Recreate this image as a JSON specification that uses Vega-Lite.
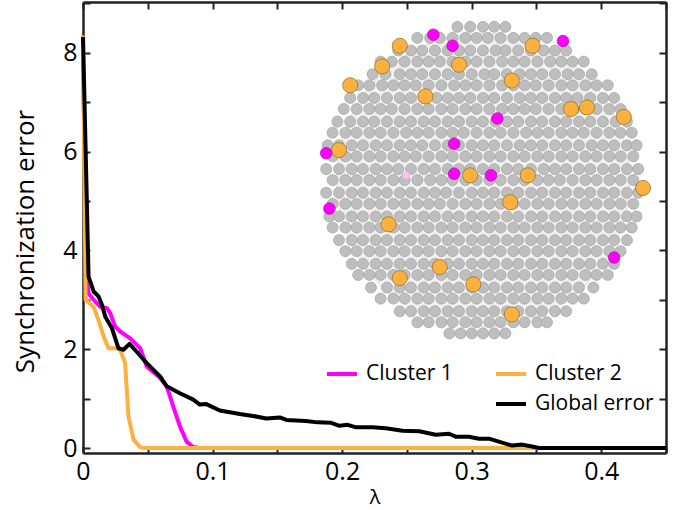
{
  "$schema": "https://vega.github.io/schema/vega-lite/v6.json",
  "width": 583,
  "height": 451,
  "autosize": {"type": "none"},
  "padding": {"left": 83, "top": 2, "right": 16, "bottom": 57},
  "config": {
    "view": {"stroke": null},
    "font": "Open Sans",
    "axis": {"labelFontSize": 25, "labelFont": "Open Sans", "labelColor": "#000000"}
  },
  "datasets": {
    "err": [
      {"s":"Cluster 1","lam":0,"err":7.85},{"s":"Cluster 1","lam":0.003,"err":3.4},{"s":"Cluster 1","lam":0.0043,"err":3.13},{"s":"Cluster 1","lam":0.0082,"err":3.0},{"s":"Cluster 1","lam":0.0133,"err":2.86},{"s":"Cluster 1","lam":0.0185,"err":2.83},{"s":"Cluster 1","lam":0.021,"err":2.73},{"s":"Cluster 1","lam":0.0248,"err":2.46},{"s":"Cluster 1","lam":0.0287,"err":2.36},{"s":"Cluster 1","lam":0.0364,"err":2.22},{"s":"Cluster 1","lam":0.0441,"err":2.02},{"s":"Cluster 1","lam":0.0492,"err":1.65},{"s":"Cluster 1","lam":0.0595,"err":1.42},{"s":"Cluster 1","lam":0.0646,"err":1.25},{"s":"Cluster 1","lam":0.0697,"err":0.84},{"s":"Cluster 1","lam":0.0748,"err":0.44},{"s":"Cluster 1","lam":0.08,"err":0.13},{"s":"Cluster 1","lam":0.085,"err":0.02},{"s":"Cluster 1","lam":0.09,"err":0},{"s":"Cluster 1","lam":0.45,"err":0},
      {"s":"Cluster 2","lam":0,"err":8.35},{"s":"Cluster 2","lam":0.002,"err":3.0},{"s":"Cluster 2","lam":0.0082,"err":2.86},{"s":"Cluster 2","lam":0.012,"err":2.59},{"s":"Cluster 2","lam":0.0159,"err":2.26},{"s":"Cluster 2","lam":0.0197,"err":2.02},{"s":"Cluster 2","lam":0.0261,"err":2.02},{"s":"Cluster 2","lam":0.0287,"err":1.99},{"s":"Cluster 2","lam":0.0325,"err":1.72},{"s":"Cluster 2","lam":0.0351,"err":0.64},{"s":"Cluster 2","lam":0.039,"err":0.17},{"s":"Cluster 2","lam":0.044,"err":0.02},{"s":"Cluster 2","lam":0.047,"err":0},{"s":"Cluster 2","lam":0.45,"err":0},
      {"s":"Global error","lam":0,"err":8.32},{"s":"Global error","lam":0.0043,"err":3.47},{"s":"Global error","lam":0.0082,"err":3.17},{"s":"Global error","lam":0.012,"err":3.07},{"s":"Global error","lam":0.0146,"err":2.9},{"s":"Global error","lam":0.0172,"err":2.66},{"s":"Global error","lam":0.0223,"err":2.43},{"s":"Global error","lam":0.0274,"err":2.02},{"s":"Global error","lam":0.0312,"err":1.99},{"s":"Global error","lam":0.0359,"err":2.11},{"s":"Global error","lam":0.0415,"err":1.95},{"s":"Global error","lam":0.0492,"err":1.72},{"s":"Global error","lam":0.0595,"err":1.45},{"s":"Global error","lam":0.0646,"err":1.25},{"s":"Global error","lam":0.0748,"err":1.11},{"s":"Global error","lam":0.0851,"err":0.98},{"s":"Global error","lam":0.0902,"err":0.88},{"s":"Global error","lam":0.0952,"err":0.89},{"s":"Global error","lam":0.1056,"err":0.76},{"s":"Global error","lam":0.121,"err":0.69},{"s":"Global error","lam":0.1312,"err":0.65},{"s":"Global error","lam":0.1415,"err":0.6},{"s":"Global error","lam":0.1518,"err":0.62},{"s":"Global error","lam":0.157,"err":0.57},{"s":"Global error","lam":0.172,"err":0.55},{"s":"Global error","lam":0.181,"err":0.52},{"s":"Global error","lam":0.1915,"err":0.51},{"s":"Global error","lam":0.198,"err":0.45},{"s":"Global error","lam":0.2043,"err":0.47},{"s":"Global error","lam":0.2108,"err":0.42},{"s":"Global error","lam":0.2235,"err":0.42},{"s":"Global error","lam":0.2338,"err":0.4},{"s":"Global error","lam":0.2466,"err":0.35},{"s":"Global error","lam":0.2595,"err":0.34},{"s":"Global error","lam":0.2723,"err":0.27},{"s":"Global error","lam":0.2825,"err":0.29},{"s":"Global error","lam":0.2877,"err":0.23},{"s":"Global error","lam":0.2979,"err":0.23},{"s":"Global error","lam":0.3056,"err":0.19},{"s":"Global error","lam":0.3133,"err":0.19},{"s":"Global error","lam":0.321,"err":0.13},{"s":"Global error","lam":0.3312,"err":0.05},{"s":"Global error","lam":0.339,"err":0.07},{"s":"Global error","lam":0.3466,"err":0.03},{"s":"Global error","lam":0.352,"err":0},{"s":"Global error","lam":0.45,"err":0}
    ],
    "orange": [
      {"u":-52,"v":85},{"u":-63,"v":72},{"u":-83,"v":60},{"u":-36,"v":53},{"u":-15,"v":73},{"u":31,"v":85},{"u":18,"v":63},{"u":55,"v":45},{"u":65,"v":46},{"u":88,"v":40},{"u":-90,"v":19},{"u":-8,"v":3},{"u":28,"v":3},{"u":17,"v":-14},{"u":100,"v":-5},{"u":-59,"v":-28},{"u":-27,"v":-55},{"u":-52,"v":-62},{"u":-6,"v":-66},{"u":18,"v":-85}
    ],
    "magenta": [
      {"u":-31,"v":92},{"u":-19,"v":85},{"u":50,"v":88},{"u":9,"v":39},{"u":-18,"v":23},{"u":-98,"v":17},{"u":-18,"v":4},{"u":5,"v":3},{"u":-96,"v":-18},{"u":82,"v":-49}
    ],
    "pale": [{"u":-48,"v":3}],
    "disk": [{"u":0,"v":0}],
    "net": [
      {"u":-16,"v":97},{"u":-8,"v":97},{"u":0,"v":97},{"u":7,"v":97},{"u":14,"v":97},
      {"u":-41,"v":90},{"u":-33,"v":90},{"u":-27,"v":90},{"u":-19,"v":90},{"u":-11,"v":90},{"u":-4,"v":90},{"u":3,"v":90},{"u":11,"v":90},{"u":19,"v":90},{"u":26,"v":90},{"u":33,"v":90},{"u":40,"v":90},
      {"u":-53,"v":82},{"u":-45,"v":82},{"u":-38,"v":82},{"u":-30,"v":82},{"u":-22,"v":82},{"u":-15,"v":82},{"u":-8,"v":82},{"u":0,"v":82},{"u":8,"v":82},{"u":14,"v":82},{"u":22,"v":82},{"u":30,"v":82},{"u":38,"v":82},{"u":45,"v":82},{"u":52,"v":82},
      {"u":-64,"v":75},{"u":-57,"v":75},{"u":-49,"v":75},{"u":-41,"v":75},{"u":-34,"v":75},{"u":-27,"v":75},{"u":-19,"v":75},{"u":-11,"v":75},{"u":-4,"v":75},{"u":4,"v":75},{"u":12,"v":75},{"u":19,"v":75},{"u":26,"v":75},{"u":34,"v":75},{"u":42,"v":75},{"u":49,"v":75},{"u":56,"v":75},{"u":63,"v":75},
      {"u":-69,"v":67},{"u":-61,"v":67},{"u":-52,"v":67},{"u":-45,"v":67},{"u":-38,"v":67},{"u":-30,"v":67},{"u":-22,"v":67},{"u":-15,"v":67},{"u":-7,"v":67},{"u":1,"v":67},{"u":7,"v":67},{"u":15,"v":67},{"u":23,"v":67},{"u":30,"v":67},{"u":37,"v":67},{"u":45,"v":67},{"u":53,"v":67},{"u":60,"v":67},{"u":68,"v":67},
      {"u":-78,"v":60},{"u":-71,"v":60},{"u":-63,"v":60},{"u":-56,"v":60},{"u":-49,"v":60},{"u":-42,"v":60},{"u":-34,"v":60},{"u":-26,"v":60},{"u":-18,"v":60},{"u":-11,"v":60},{"u":-4,"v":60},{"u":4,"v":60},{"u":12,"v":60},{"u":19,"v":60},{"u":26,"v":60},{"u":33,"v":60},{"u":41,"v":60},{"u":49,"v":60},{"u":56,"v":60},{"u":64,"v":60},{"u":71,"v":60},{"u":78,"v":60},
      {"u":-83,"v":52},{"u":-75,"v":52},{"u":-68,"v":52},{"u":-60,"v":52},{"u":-52,"v":52},{"u":-45,"v":52},{"u":-37,"v":52},{"u":-29,"v":52},{"u":-22,"v":52},{"u":-15,"v":52},{"u":-8,"v":52},{"u":0,"v":52},{"u":7,"v":52},{"u":15,"v":52},{"u":23,"v":52},{"u":30,"v":52},{"u":37,"v":52},{"u":45,"v":52},{"u":52,"v":52},{"u":59,"v":52},{"u":67,"v":52},{"u":75,"v":52},{"u":82,"v":52},
      {"u":-87,"v":45},{"u":-79,"v":45},{"u":-71,"v":45},{"u":-64,"v":45},{"u":-57,"v":45},{"u":-49,"v":45},{"u":-41,"v":45},{"u":-34,"v":45},{"u":-26,"v":45},{"u":-19,"v":45},{"u":-11,"v":45},{"u":-4,"v":45},{"u":4,"v":45},{"u":12,"v":45},{"u":19,"v":45},{"u":26,"v":45},{"u":33,"v":45},{"u":41,"v":45},{"u":49,"v":45},{"u":57,"v":45},{"u":64,"v":45},{"u":71,"v":45},{"u":79,"v":45},{"u":86,"v":45},
      {"u":-91,"v":37},{"u":-83,"v":37},{"u":-75,"v":37},{"u":-68,"v":37},{"u":-60,"v":37},{"u":-52,"v":37},{"u":-45,"v":37},{"u":-37,"v":37},{"u":-30,"v":37},{"u":-22,"v":37},{"u":-15,"v":37},{"u":-7,"v":37},{"u":0,"v":37},{"u":8,"v":37},{"u":15,"v":37},{"u":22,"v":37},{"u":30,"v":37},{"u":37,"v":37},{"u":45,"v":37},{"u":52,"v":37},{"u":60,"v":37},{"u":67,"v":37},{"u":75,"v":37},{"u":83,"v":37},{"u":90,"v":37},
      {"u":-94,"v":30},{"u":-86,"v":30},{"u":-79,"v":30},{"u":-71,"v":30},{"u":-64,"v":30},{"u":-56,"v":30},{"u":-48,"v":30},{"u":-41,"v":30},{"u":-34,"v":30},{"u":-26,"v":30},{"u":-19,"v":30},{"u":-12,"v":30},{"u":-4,"v":30},{"u":4,"v":30},{"u":11,"v":30},{"u":19,"v":30},{"u":27,"v":30},{"u":34,"v":30},{"u":41,"v":30},{"u":49,"v":30},{"u":56,"v":30},{"u":63,"v":30},{"u":71,"v":30},{"u":79,"v":30},{"u":86,"v":30},{"u":93,"v":30},
      {"u":-97,"v":22},{"u":-90,"v":22},{"u":-82,"v":22},{"u":-75,"v":22},{"u":-67,"v":22},{"u":-60,"v":22},{"u":-52,"v":22},{"u":-45,"v":22},{"u":-38,"v":22},{"u":-30,"v":22},{"u":-22,"v":22},{"u":-15,"v":22},{"u":-7,"v":22},{"u":0,"v":22},{"u":7,"v":22},{"u":15,"v":22},{"u":23,"v":22},{"u":30,"v":22},{"u":37,"v":22},{"u":45,"v":22},{"u":52,"v":22},{"u":60,"v":22},{"u":68,"v":22},{"u":75,"v":22},{"u":82,"v":22},{"u":90,"v":22},{"u":96,"v":22},
      {"u":-94,"v":15},{"u":-86,"v":15},{"u":-79,"v":15},{"u":-71,"v":15},{"u":-64,"v":15},{"u":-56,"v":15},{"u":-49,"v":15},{"u":-42,"v":15},{"u":-34,"v":15},{"u":-26,"v":15},{"u":-19,"v":15},{"u":-11,"v":15},{"u":-4,"v":15},{"u":4,"v":15},{"u":11,"v":15},{"u":19,"v":15},{"u":26,"v":15},{"u":34,"v":15},{"u":41,"v":15},{"u":49,"v":15},{"u":56,"v":15},{"u":64,"v":15},{"u":71,"v":15},{"u":79,"v":15},{"u":86,"v":15},{"u":94,"v":15},
      {"u":-98,"v":7},{"u":-90,"v":7},{"u":-82,"v":7},{"u":-75,"v":7},{"u":-67,"v":7},{"u":-60,"v":7},{"u":-53,"v":7},{"u":-45,"v":7},{"u":-37,"v":7},{"u":-30,"v":7},{"u":-22,"v":7},{"u":-15,"v":7},{"u":-8,"v":7},{"u":0,"v":7},{"u":7,"v":7},{"u":15,"v":7},{"u":22,"v":7},{"u":30,"v":7},{"u":38,"v":7},{"u":45,"v":7},{"u":52,"v":7},{"u":60,"v":7},{"u":67,"v":7},{"u":75,"v":7},{"u":82,"v":7},{"u":90,"v":7},{"u":97,"v":7},
      {"u":-94,"v":0},{"u":-86,"v":0},{"u":-79,"v":0},{"u":-71,"v":0},{"u":-64,"v":0},{"u":-56,"v":0},{"u":-49,"v":0},{"u":-41,"v":0},{"u":-33,"v":0},{"u":-26,"v":0},{"u":-19,"v":0},{"u":-11,"v":0},{"u":-4,"v":0},{"u":4,"v":0},{"u":11,"v":0},{"u":19,"v":0},{"u":26,"v":0},{"u":34,"v":0},{"u":41,"v":0},{"u":48,"v":0},{"u":56,"v":0},{"u":64,"v":0},{"u":71,"v":0},{"u":79,"v":0},{"u":86,"v":0},{"u":94,"v":0},
      {"u":-98,"v":-8},{"u":-90,"v":-8},{"u":-82,"v":-8},{"u":-75,"v":-8},{"u":-67,"v":-8},{"u":-60,"v":-8},{"u":-52,"v":-8},{"u":-45,"v":-8},{"u":-37,"v":-8},{"u":-30,"v":-8},{"u":-23,"v":-8},{"u":-15,"v":-8},{"u":-7,"v":-8},{"u":0,"v":-8},{"u":7,"v":-8},{"u":15,"v":-8},{"u":22,"v":-8},{"u":30,"v":-8},{"u":37,"v":-8},{"u":45,"v":-8},{"u":52,"v":-8},{"u":60,"v":-8},{"u":67,"v":-8},{"u":75,"v":-8},{"u":82,"v":-8},{"u":90,"v":-8},{"u":97,"v":-8},
      {"u":-94,"v":-15},{"u":-86,"v":-15},{"u":-79,"v":-15},{"u":-71,"v":-15},{"u":-64,"v":-15},{"u":-56,"v":-15},{"u":-49,"v":-15},{"u":-41,"v":-15},{"u":-34,"v":-15},{"u":-27,"v":-15},{"u":-19,"v":-15},{"u":-11,"v":-15},{"u":-4,"v":-15},{"u":4,"v":-15},{"u":11,"v":-15},{"u":19,"v":-15},{"u":26,"v":-15},{"u":34,"v":-15},{"u":41,"v":-15},{"u":49,"v":-15},{"u":56,"v":-15},{"u":64,"v":-15},{"u":71,"v":-15},{"u":79,"v":-15},{"u":86,"v":-15},{"u":94,"v":-15},
      {"u":-96,"v":-23},{"u":-90,"v":-23},{"u":-82,"v":-23},{"u":-75,"v":-23},{"u":-67,"v":-23},{"u":-60,"v":-23},{"u":-52,"v":-23},{"u":-45,"v":-23},{"u":-37,"v":-23},{"u":-30,"v":-23},{"u":-22,"v":-23},{"u":-15,"v":-23},{"u":-7,"v":-23},{"u":0,"v":-23},{"u":7,"v":-23},{"u":15,"v":-23},{"u":22,"v":-23},{"u":30,"v":-23},{"u":37,"v":-23},{"u":45,"v":-23},{"u":52,"v":-23},{"u":60,"v":-23},{"u":67,"v":-23},{"u":75,"v":-23},{"u":82,"v":-23},{"u":90,"v":-23},{"u":96,"v":-23},
      {"u":-94,"v":-30},{"u":-86,"v":-30},{"u":-79,"v":-30},{"u":-71,"v":-30},{"u":-64,"v":-30},{"u":-56,"v":-30},{"u":-49,"v":-30},{"u":-41,"v":-30},{"u":-34,"v":-30},{"u":-26,"v":-30},{"u":-19,"v":-30},{"u":-11,"v":-30},{"u":-4,"v":-30},{"u":4,"v":-30},{"u":11,"v":-30},{"u":19,"v":-30},{"u":26,"v":-30},{"u":34,"v":-30},{"u":41,"v":-30},{"u":49,"v":-30},{"u":56,"v":-30},{"u":64,"v":-30},{"u":71,"v":-30},{"u":79,"v":-30},{"u":86,"v":-30},{"u":93,"v":-30},
      {"u":-90,"v":-38},{"u":-82,"v":-38},{"u":-75,"v":-38},{"u":-67,"v":-38},{"u":-60,"v":-38},{"u":-52,"v":-38},{"u":-45,"v":-38},{"u":-37,"v":-38},{"u":-30,"v":-38},{"u":-22,"v":-38},{"u":-15,"v":-38},{"u":-7,"v":-38},{"u":0,"v":-38},{"u":7,"v":-38},{"u":15,"v":-38},{"u":22,"v":-38},{"u":30,"v":-38},{"u":37,"v":-38},{"u":45,"v":-38},{"u":52,"v":-38},{"u":60,"v":-38},{"u":67,"v":-38},{"u":75,"v":-38},{"u":82,"v":-38},{"u":90,"v":-38},
      {"u":-86,"v":-45},{"u":-79,"v":-45},{"u":-71,"v":-45},{"u":-64,"v":-45},{"u":-56,"v":-45},{"u":-49,"v":-45},{"u":-41,"v":-45},{"u":-34,"v":-45},{"u":-26,"v":-45},{"u":-19,"v":-45},{"u":-11,"v":-45},{"u":-4,"v":-45},{"u":4,"v":-45},{"u":11,"v":-45},{"u":19,"v":-45},{"u":26,"v":-45},{"u":34,"v":-45},{"u":41,"v":-45},{"u":49,"v":-45},{"u":56,"v":-45},{"u":64,"v":-45},{"u":71,"v":-45},{"u":79,"v":-45},{"u":86,"v":-45},
      {"u":-82,"v":-53},{"u":-75,"v":-53},{"u":-67,"v":-53},{"u":-60,"v":-53},{"u":-52,"v":-53},{"u":-45,"v":-53},{"u":-37,"v":-53},{"u":-30,"v":-53},{"u":-22,"v":-53},{"u":-15,"v":-53},{"u":-7,"v":-53},{"u":0,"v":-53},{"u":7,"v":-53},{"u":15,"v":-53},{"u":22,"v":-53},{"u":30,"v":-53},{"u":37,"v":-53},{"u":45,"v":-53},{"u":52,"v":-53},{"u":60,"v":-53},{"u":67,"v":-53},{"u":75,"v":-53},{"u":82,"v":-53},
      {"u":-78,"v":-60},{"u":-71,"v":-60},{"u":-64,"v":-60},{"u":-56,"v":-60},{"u":-49,"v":-60},{"u":-41,"v":-60},{"u":-34,"v":-60},{"u":-26,"v":-60},{"u":-19,"v":-60},{"u":-11,"v":-60},{"u":-4,"v":-60},{"u":4,"v":-60},{"u":11,"v":-60},{"u":19,"v":-60},{"u":26,"v":-60},{"u":34,"v":-60},{"u":41,"v":-60},{"u":49,"v":-60},{"u":56,"v":-60},{"u":64,"v":-60},{"u":71,"v":-60},{"u":78,"v":-60},
      {"u":-70,"v":-68},{"u":-60,"v":-68},{"u":-52,"v":-68},{"u":-45,"v":-68},{"u":-37,"v":-68},{"u":-30,"v":-68},{"u":-22,"v":-68},{"u":-15,"v":-68},{"u":-7,"v":-68},{"u":0,"v":-68},{"u":7,"v":-68},{"u":15,"v":-68},{"u":22,"v":-68},{"u":30,"v":-68},{"u":37,"v":-68},{"u":45,"v":-68},{"u":52,"v":-68},{"u":60,"v":-68},{"u":69,"v":-68},
      {"u":-64,"v":-75},{"u":-56,"v":-75},{"u":-49,"v":-75},{"u":-41,"v":-75},{"u":-34,"v":-75},{"u":-26,"v":-75},{"u":-19,"v":-75},{"u":-11,"v":-75},{"u":-4,"v":-75},{"u":4,"v":-75},{"u":11,"v":-75},{"u":19,"v":-75},{"u":26,"v":-75},{"u":34,"v":-75},{"u":41,"v":-75},{"u":49,"v":-75},{"u":56,"v":-75},{"u":63,"v":-75},
      {"u":-52,"v":-83},{"u":-45,"v":-83},{"u":-37,"v":-83},{"u":-30,"v":-83},{"u":-22,"v":-83},{"u":-15,"v":-83},{"u":-7,"v":-83},{"u":0,"v":-83},{"u":7,"v":-83},{"u":15,"v":-83},{"u":22,"v":-83},{"u":30,"v":-83},{"u":37,"v":-83},{"u":45,"v":-83},{"u":52,"v":-83},
      {"u":-41,"v":-90},{"u":-34,"v":-90},{"u":-26,"v":-90},{"u":-19,"v":-90},{"u":-11,"v":-90},{"u":-4,"v":-90},{"u":4,"v":-90},{"u":11,"v":-90},{"u":19,"v":-90},{"u":26,"v":-90},{"u":34,"v":-90},{"u":40,"v":-90},
      {"u":-21,"v":-97},{"u":-14,"v":-97},{"u":-7,"v":-97},{"u":0,"v":-97},{"u":7,"v":-97},{"u":14,"v":-97}
    ]
  },
  "layer": [
    {
      "data": {"name": "disk"},
      "mark": {"type": "point", "shape": "circle", "filled": true, "size": 86000, "fill": "#f1f1f1", "stroke": "#f3d3df", "strokeWidth": 1, "opacity": 1},
      "encoding": {
        "x": {"field": "u", "type": "quantitative", "scale": {"domain": [-250, 114.4], "nice": false, "zero": false}, "axis": null},
        "y": {"field": "v", "type": "quantitative", "scale": {"domain": [-172.7, 112.7], "nice": false, "zero": false}, "axis": null}
      }
    },
    {
      "data": {"name": "net"},
      "mark": {"type": "circle", "size": 122, "color": "#bebebe", "stroke": "#a3a3a3", "strokeWidth": 0.7, "opacity": 1},
      "encoding": {
        "x": {"field": "u", "type": "quantitative", "scale": {"domain": [-250, 114.4], "nice": false, "zero": false}, "axis": null},
        "y": {"field": "v", "type": "quantitative", "scale": {"domain": [-172.7, 112.7], "nice": false, "zero": false}, "axis": null}
      }
    },
    {
      "data": {"name": "orange"},
      "mark": {"type": "circle", "size": 230, "color": "#fbb040", "stroke": "#8f7a2a", "strokeWidth": 0.8, "opacity": 1},
      "encoding": {
        "x": {"field": "u", "type": "quantitative", "scale": {"domain": [-250, 114.4], "nice": false, "zero": false}, "axis": null},
        "y": {"field": "v", "type": "quantitative", "scale": {"domain": [-172.7, 112.7], "nice": false, "zero": false}, "axis": null}
      }
    },
    {
      "data": {"name": "magenta"},
      "mark": {"type": "circle", "size": 135, "color": "#ff00ff", "stroke": "#b400b4", "strokeWidth": 0.7, "opacity": 1},
      "encoding": {
        "x": {"field": "u", "type": "quantitative", "scale": {"domain": [-250, 114.4], "nice": false, "zero": false}, "axis": null},
        "y": {"field": "v", "type": "quantitative", "scale": {"domain": [-172.7, 112.7], "nice": false, "zero": false}, "axis": null}
      }
    },
    {
      "data": {"name": "pale"},
      "mark": {"type": "circle", "size": 55, "color": "#f9c4f3", "stroke": "#e8a8e0", "strokeWidth": 0.5, "opacity": 1},
      "encoding": {
        "x": {"field": "u", "type": "quantitative", "scale": {"domain": [-250, 114.4], "nice": false, "zero": false}, "axis": null},
        "y": {"field": "v", "type": "quantitative", "scale": {"domain": [-172.7, 112.7], "nice": false, "zero": false}, "axis": null}
      }
    },
    {
      "data": {"name": "err"},
      "mark": {"type": "line", "strokeJoin": "round", "strokeCap": "butt"},
      "encoding": {
        "x": {
          "field": "lam", "type": "quantitative",
          "scale": {"domain": [0, 0.45], "nice": false, "zero": false},
          "axis": {
            "orient": "bottom", "grid": false,
            "values": [0, 0.05, 0.1, 0.15, 0.2, 0.25, 0.3, 0.35, 0.4, 0.45],
            "labelExpr": "round(datum.value * 20) % 2 === 0 ? format(datum.value, '~g') : ''",
            "tickSize": -7, "tickWidth": 2, "tickColor": "#222222",
            "domainColor": "#222222", "domainWidth": 2.5,
            "labelFontSize": 25, "labelColor": "#000000", "labelPadding": 13,
            "labelFlush": false, "labelOverlap": false, "labelBound": false,
            "title": "λ", "titleFontSize": 20, "titleFontWeight": "normal", "titleColor": "#000000", "titlePadding": 3
          }
        },
        "y": {
          "field": "err", "type": "quantitative",
          "scale": {"domain": [-0.1, 9.03], "nice": false, "zero": false},
          "axis": {
            "orient": "left", "grid": false,
            "values": [0, 1, 2, 3, 4, 5, 6, 7, 8, 9],
            "labelExpr": "datum.value % 2 === 0 ? datum.label : ''",
            "tickSize": -7, "tickWidth": 2, "tickColor": "#222222",
            "domainColor": "#222222", "domainWidth": 2.5,
            "labelFontSize": 25, "labelColor": "#000000", "labelPadding": 13,
            "labelFlush": false, "labelOverlap": false, "labelBound": false,
            "title": "Synchronization error", "titleFontSize": 26, "titleFontWeight": "normal", "titleColor": "#000000",
            "titleX": -50, "titleY": 239, "titleBaseline": "alphabetic"
          }
        },
        "color": {
          "field": "s", "type": "nominal",
          "scale": {"domain": ["Cluster 1", " ", "Cluster 2", "Global error"], "range": ["#ff00ff", "rgba(0,0,0,0)", "#fbb040", "#000000"]},
          "legend": {
            "orient": "none", "legendX": 242, "legendY": 355, "columns": 2, "columnPadding": 35, "rowPadding": 3,
            "title": null, "symbolType": "stroke", "symbolSize": 900, "symbolStrokeWidth": 5,
            "labelFontSize": 21, "labelColor": "#000000", "labelOffset": 7, "padding": 0
          }
        },
        "strokeWidth": {
          "field": "s", "type": "nominal",
          "scale": {"domain": ["Cluster 1", " ", "Cluster 2", "Global error"], "range": [4, 4, 4, 5]},
          "legend": null
        }
      }
    },
    {
      "data": {"values": [{"lam": 0, "err": 0}]},
      "mark": {"type": "point", "opacity": 0},
      "encoding": {
        "x": {
          "field": "lam", "type": "quantitative",
          "scale": {"domain": [0, 0.45], "nice": false, "zero": false},
          "axis": {
            "orient": "top", "grid": false, "labels": false, "title": null,
            "values": [0, 0.05, 0.1, 0.15, 0.2, 0.25, 0.3, 0.35, 0.4, 0.45],
            "tickSize": -7, "tickWidth": 2, "tickColor": "#222222",
            "domainColor": "#222222", "domainWidth": 2.5
          }
        },
        "y": {
          "field": "err", "type": "quantitative",
          "scale": {"domain": [-0.1, 9.03], "nice": false, "zero": false},
          "axis": {
            "orient": "right", "grid": false, "labels": false, "title": null,
            "values": [0, 1, 2, 3, 4, 5, 6, 7, 8, 9],
            "tickSize": -7, "tickWidth": 2, "tickColor": "#222222",
            "domainColor": "#222222", "domainWidth": 2.5
          }
        }
      }
    }
  ],
  "resolve": {"scale": {"x": "independent", "y": "independent"}, "axis": {"x": "independent", "y": "independent"}}
}
